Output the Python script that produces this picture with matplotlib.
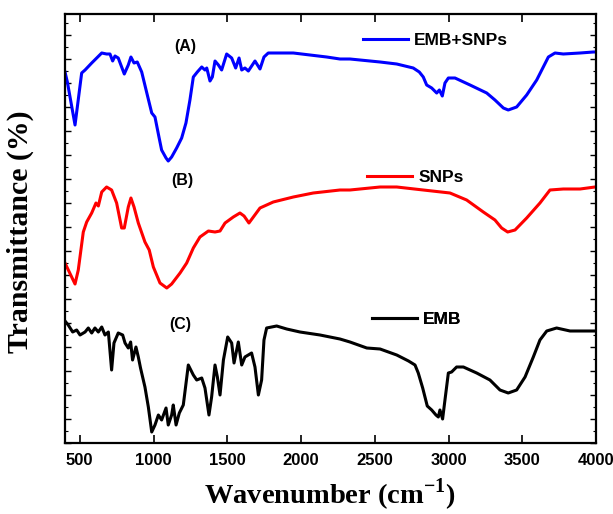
import matplotlib
matplotlib.use("Agg")
import matplotlib.pyplot as plt
from matplotlib.ticker import MultipleLocator

# FTIR spectra, values (arbitrary transmittance units)
wn_a = [400, 416, 468, 513, 536, 581, 615, 649, 682, 705, 723, 739, 761, 802,
        829, 847, 868, 890, 920, 958, 988, 1010, 1037, 1055, 1085, 1100, 1123,
        1157, 1191, 1220, 1247, 1270, 1297, 1327, 1349, 1361, 1383, 1399, 1417,
        1440, 1462, 1496, 1530, 1557, 1580, 1598, 1620, 1643, 1688, 1722, 1749,
        1778, 1835, 1948, 2061, 2174, 2264, 2332, 2536, 2649, 2761, 2802, 2829,
        2852, 2886, 2920, 2938, 2958, 2976, 2999, 3044, 3146, 3259, 3315, 3372,
        3405, 3462, 3530, 3598, 3677, 3722, 3778, 3892, 3982, 4000]
t_a = [371, 361, 318, 370, 373, 380, 385, 390, 389, 389, 382, 387, 385, 369,
       378, 386, 380, 381, 371, 348, 330, 326, 306, 293, 285, 282, 286,
       295, 305, 320, 343, 366, 371, 376, 373, 375, 362, 366, 382,
       378, 373, 389, 385, 375, 385, 373, 375, 372, 382, 374, 386,
       390, 390, 390, 388, 386, 384, 384, 381, 379, 375, 371, 366,
       358, 355, 350, 353, 347, 360, 365, 365, 358, 350, 343, 335,
       333, 336, 348, 363, 386, 390, 389, 390, 391, 391]

wn_b = [400, 429, 468, 490, 524, 547, 581, 610, 626, 649, 682, 716, 750, 784,
        802, 829, 847, 868, 897, 942, 971, 999, 1044, 1090, 1123, 1180, 1225,
        1270, 1315, 1372, 1417, 1451, 1485, 1541, 1586, 1614, 1647, 1677, 1722,
        1812, 1948, 2083, 2264, 2332, 2536, 2649, 2829, 3010, 3123, 3236, 3315,
        3360, 3401, 3451, 3530, 3620, 3688, 3778, 3892, 3993, 4000]
t_b = [180, 171, 159, 173, 211, 221, 230, 240, 237, 251, 256, 253, 240, 215,
       215, 236, 245, 236, 220, 201, 193, 176, 160, 155, 159, 170, 180,
       195, 206, 212, 211, 212, 220, 226, 230, 227, 220, 226, 235,
       241, 246, 250, 253, 253, 256, 256, 253, 250, 243, 231, 223,
       215, 211, 213, 225, 240, 253, 254, 254, 256, 256]

wn_c = [400, 422, 452, 479, 502, 536, 558, 581, 603, 626, 649, 671, 694, 716,
        732, 761, 791, 807, 829, 845, 858, 881, 897, 912, 942, 965, 988, 1010,
        1033, 1055, 1085, 1100, 1123, 1134, 1153, 1175, 1202, 1236, 1270, 1293,
        1327, 1349, 1376, 1394, 1417, 1433, 1451, 1474, 1503, 1530, 1546, 1575,
        1598, 1620, 1665, 1688, 1711, 1733, 1749, 1767, 1835, 1903, 1993, 2129,
        2264, 2332, 2446, 2536, 2649, 2729, 2773, 2795, 2825, 2856, 2886, 2915,
        2931, 2942, 2960, 2976, 2999, 3021, 3055, 3101, 3191, 3281, 3349, 3405,
        3462, 3519, 3575, 3620, 3666, 3733, 3824, 3982, 4000]
t_c = [122, 118, 111, 113, 108, 111, 115, 110, 115, 111, 116, 108, 111, 73,
       100, 110, 108, 100, 95, 101, 83, 96, 86, 75, 56, 36, 11, 18,
       28, 23, 35, 18, 28, 38, 18, 30, 38, 78, 68, 63,
       65, 55, 28, 46, 78, 66, 48, 83, 106, 100, 80, 101,
       78, 86, 90, 76, 48, 63, 103, 115, 117, 114, 111, 108,
       104, 101, 95, 94, 88, 82, 78, 70, 55, 37, 33, 28,
       26, 33, 24, 43, 70, 71, 76, 76, 70, 63, 53, 50,
       53, 66, 86, 103, 112, 115, 112, 112, 112]

x_ticks = [500, 1000, 1500, 2000, 2500, 3000, 3500, 4000]

plt.rcParams["mathtext.fontset"] = "custom"
plt.rcParams["mathtext.rm"] = "Liberation Serif:bold"
plt.rcParams["mathtext.bf"] = "Liberation Serif:bold"

fig = plt.figure(figsize=(6.13, 5.14), dpi=100)
ax = fig.add_axes([65 / 613, 71 / 514, 531 / 613, 429 / 514])

line_a, = ax.plot(wn_a, t_a, color="#0000ff", lw=2.2)
line_b, = ax.plot(wn_b, t_b, color="#ff0000", lw=2.2)
line_c, = ax.plot(wn_c, t_c, color="black", lw=2.2)

ax.set_xlim(400, 4000)
ax.set_ylim(0, 429)

sans = {"family": "Liberation Sans", "weight": "bold"}
ax.text(1214, 396, "(A)", fontsize=11.5, ha="center", va="center", **sans)
ax.text(1193, 262, "(B)", fontsize=11.5, ha="center", va="center", **sans)
ax.text(1180, 119, "(C)", fontsize=11.5, ha="center", va="center", **sans)

# one small legend per curve
leg_kw = dict(frameon=False, loc="center left", borderpad=0, borderaxespad=0,
              handlelength=2.6, handletextpad=0.35,
              prop={"family": "Liberation Sans", "weight": "bold", "size": 12.5})
for handle, label, pos in [(line_a, "EMB+SNPs", (0.561, 0.939)),
                           (line_b, "SNPs", (0.569, 0.620)),
                           (line_c, "EMB", (0.578, 0.287))]:
    leg = ax.legend([handle], [label], bbox_to_anchor=pos, **leg_kw)
    ax.add_artist(leg)

ax.set_xticks(x_ticks)
ax.set_xticklabels([str(v) for v in x_ticks], fontfamily="Liberation Sans",
                   fontweight="bold", fontsize=12)
ax.xaxis.set_minor_locator(MultipleLocator(250))
ax.yaxis.set_major_locator(MultipleLocator(24))
ax.yaxis.set_minor_locator(MultipleLocator(12))
ax.set_yticklabels([])

ax.tick_params(axis="x", which="major", direction="in", length=6, width=1.2,
               top=True, pad=7)
ax.tick_params(axis="x", which="minor", direction="in", length=0, top=True)
ax.tick_params(axis="y", which="major", direction="in", length=4, width=1,
               right=True)
ax.tick_params(axis="y", which="minor", direction="in", length=2.5, width=0.8,
               right=True)
for s in ax.spines.values():
    s.set_linewidth(1.6)

serif = ["Liberation Serif", "DejaVu Serif"]
fig.text(330 / 613, 1 - 495 / 514, r"Wavenumber (cm$^{\mathrm{-1}}$)",
         ha="center", va="center", fontsize=20.5, fontweight="bold",
         family=serif)
fig.text(20 / 613, 1 - 232 / 514, "Transmittance (%)", ha="center",
         va="center", rotation=90, fontsize=21.5, fontweight="bold",
         family=serif)

fig.savefig("out.png", dpi=100)
